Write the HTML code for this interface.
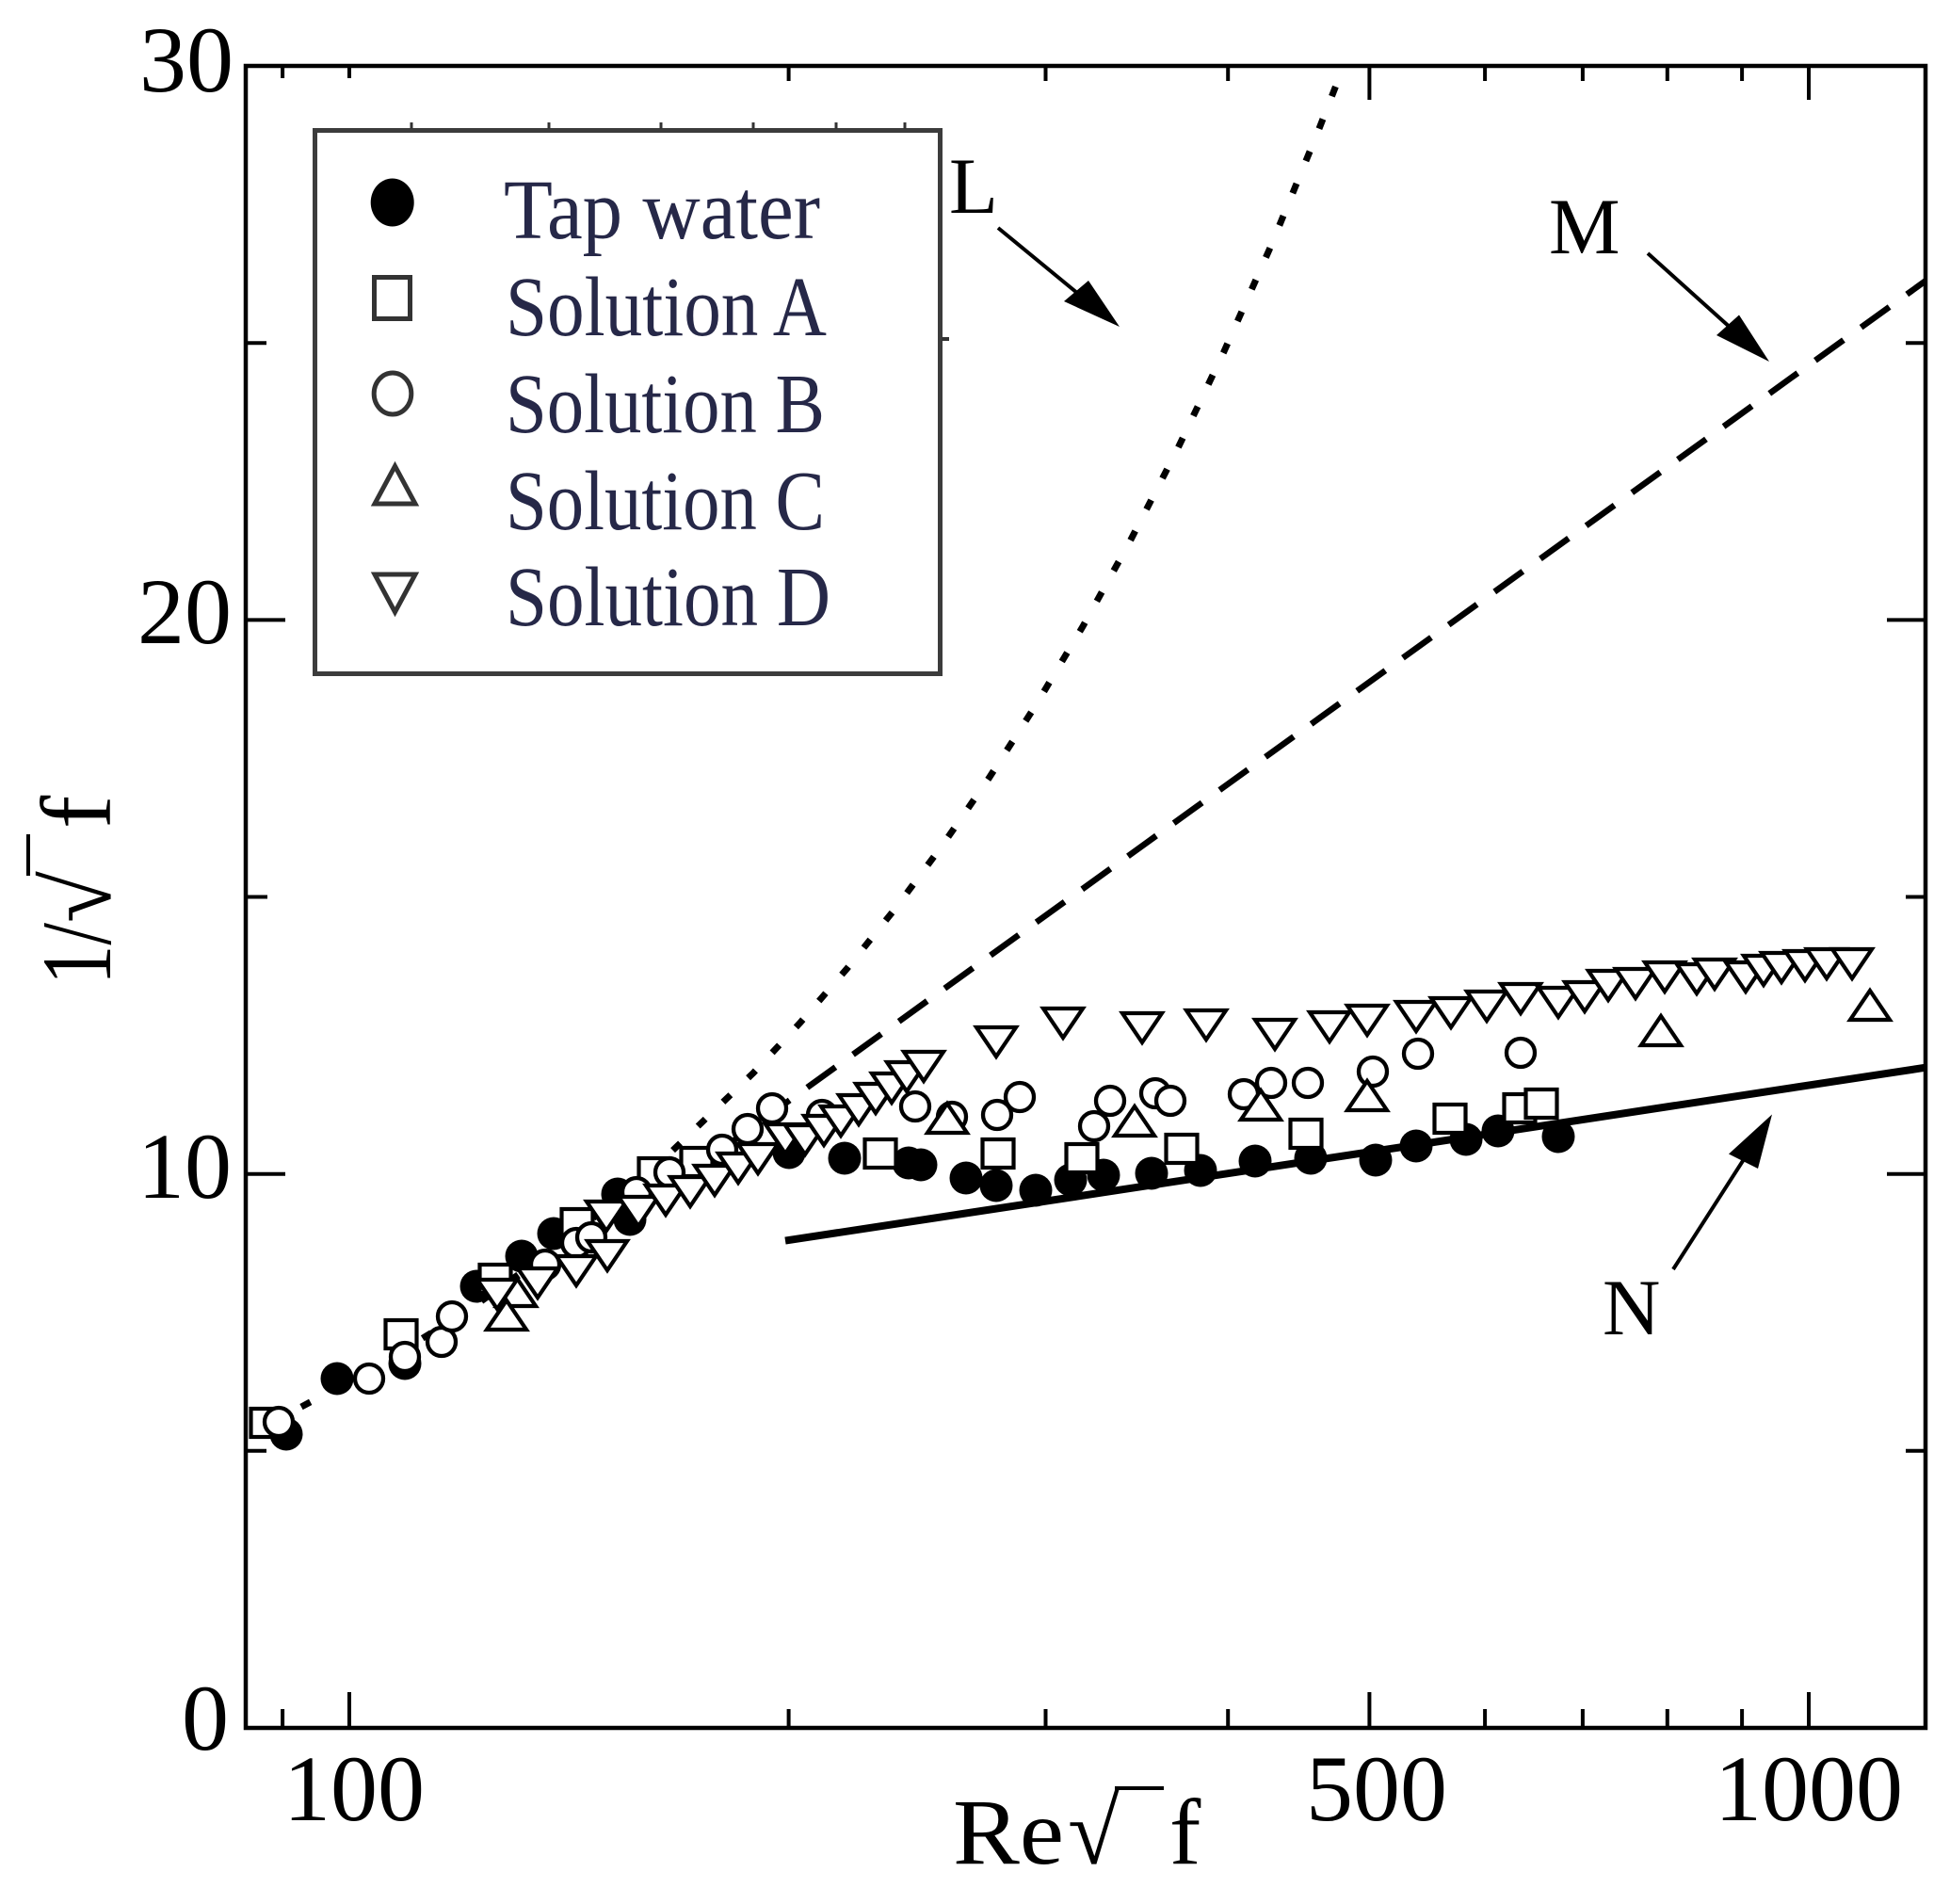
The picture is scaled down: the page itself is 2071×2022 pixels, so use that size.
<!DOCTYPE html>
<html>
<head>
<meta charset="utf-8">
<style>
  html,body{margin:0;padding:0;background:#fff;}
  svg{display:block;}
  .lbl{font-family:"Liberation Serif",serif;fill:#000;}
  .leg{font-family:"Liberation Serif",serif;fill:#262848;}
</style>
</head>
<body>
<svg width="2071" height="2022" viewBox="0 0 2071 2022" xmlns="http://www.w3.org/2000/svg">
  <defs>
    <circle id="tw" r="17.5" fill="#000"/>
    <rect id="sa" x="-16.5" y="-15" width="33" height="30" fill="#fff" stroke="#000" stroke-width="4.2"/>
    <circle id="sb" r="15" fill="#fff" stroke="#000" stroke-width="4.3"/>
    <path id="sc" d="M0,-16 L21,15 L-21,15 Z" fill="#fff" stroke="#000" stroke-width="4.2" stroke-linejoin="miter"/>
    <path id="sd" d="M-21,-15 L21,-15 L0,16 Z" fill="#fff" stroke="#000" stroke-width="4.2" stroke-linejoin="miter"/>
  </defs>

  <rect x="0" y="0" width="2071" height="2022" fill="#fff"/>

  <!-- Plot frame -->
  <rect x="261" y="70" width="1784" height="1765" fill="none" stroke="#000" stroke-width="4.5"/>

  <!-- Ticks -->
  <g stroke="#000" stroke-width="4">
    <line x1="300.1" y1="1835" x2="300.1" y2="1815"/>
    <line x1="371" y1="1835" x2="371" y2="1797"/>
    <line x1="837.6" y1="1835" x2="837.6" y2="1815"/>
    <line x1="1110.5" y1="1835" x2="1110.5" y2="1815"/>
    <line x1="1304.2" y1="1835" x2="1304.2" y2="1815"/>
    <line x1="1454.4" y1="1835" x2="1454.4" y2="1797"/>
    <line x1="1577.1" y1="1835" x2="1577.1" y2="1815"/>
    <line x1="1680.9" y1="1835" x2="1680.9" y2="1815"/>
    <line x1="1770.8" y1="1835" x2="1770.8" y2="1815"/>
    <line x1="1850.1" y1="1835" x2="1850.1" y2="1815"/>
    <line x1="1921" y1="1835" x2="1921" y2="1797"/>
    <line x1="300.1" y1="70" x2="300.1" y2="83"/>
    <line x1="371" y1="70" x2="371" y2="83"/>
    <line x1="837.6" y1="70" x2="837.6" y2="86"/>
    <line x1="1110.5" y1="70" x2="1110.5" y2="86"/>
    <line x1="1304.2" y1="70" x2="1304.2" y2="86"/>
    <line x1="1454.4" y1="70" x2="1454.4" y2="106"/>
    <line x1="1577.1" y1="70" x2="1577.1" y2="86"/>
    <line x1="1680.9" y1="70" x2="1680.9" y2="86"/>
    <line x1="1770.8" y1="70" x2="1770.8" y2="86"/>
    <line x1="1850.1" y1="70" x2="1850.1" y2="86"/>
    <line x1="1921" y1="70" x2="1921" y2="106"/>
    <line x1="261" y1="1540.8" x2="283" y2="1540.8"/>
    <line x1="261" y1="1246.7" x2="303" y2="1246.7"/>
    <line x1="261" y1="952.5" x2="284" y2="952.5"/>
    <line x1="261" y1="658.4" x2="303" y2="658.4"/>
    <line x1="261" y1="364.3" x2="283" y2="364.3"/>
    <line x1="2045" y1="1540.8" x2="2024" y2="1540.8"/>
    <line x1="2045" y1="1246.7" x2="2004" y2="1246.7"/>
    <line x1="2045" y1="952.5" x2="2024" y2="952.5"/>
    <line x1="2045" y1="658.4" x2="2004" y2="658.4"/>
    <line x1="2045" y1="364.3" x2="2024" y2="364.3"/>
  </g>

  <!-- Curves -->
  <polyline fill="none" stroke="#000" stroke-width="7" stroke-dasharray="11 26"
    points="320,1494.1 400,1451.1 500,1389.7 600,1318.3 700,1235.6 800,1139.5 850,1085.9 900,1028.1 950,965.9 1000,898.9 1050,826.8 1100,749.0 1150,665.3 1200,575.0 1250,478.0 1300,373.2 1350,260.8 1400,139.1 1427,70.1"/>
  <line x1="760" y1="1225.1" x2="2045" y2="298.3" stroke="#000" stroke-width="6.5" stroke-dasharray="37 23"/>
  <line x1="834" y1="1317.6" x2="2045" y2="1133.7" stroke="#000" stroke-width="8"/>

  <!-- Tap water -->
  <g>
    <use href="#tw" x="304" y="1523"/><use href="#tw" x="358" y="1464"/><use href="#tw" x="430" y="1448"/>
    <use href="#tw" x="506" y="1366"/><use href="#tw" x="554" y="1334"/><use href="#tw" x="588" y="1310"/>
    <use href="#tw" x="656" y="1268"/><use href="#tw" x="669" y="1295"/><use href="#tw" x="838" y="1224"/>
    <use href="#tw" x="897" y="1230"/><use href="#tw" x="965" y="1235"/><use href="#tw" x="978" y="1237"/>
    <use href="#tw" x="1026" y="1251"/><use href="#tw" x="1058" y="1259"/><use href="#tw" x="1100" y="1264"/>
    <use href="#tw" x="1137" y="1253"/><use href="#tw" x="1172" y="1248"/><use href="#tw" x="1223" y="1246"/>
    <use href="#tw" x="1275" y="1243"/><use href="#tw" x="1333" y="1233"/><use href="#tw" x="1392" y="1230"/>
    <use href="#tw" x="1461" y="1232"/><use href="#tw" x="1504" y="1217"/><use href="#tw" x="1557" y="1210"/>
    <use href="#tw" x="1591" y="1201"/><use href="#tw" x="1655" y="1207"/>
  </g>

  <!-- Solution A -->
  <g>
    <use href="#sa" x="283" y="1511"/><use href="#sa" x="426" y="1417"/><use href="#sa" x="526" y="1358"/>
    <use href="#sa" x="613" y="1299"/><use href="#sa" x="695" y="1245"/><use href="#sa" x="740" y="1234"/>
    <use href="#sa" x="935" y="1225"/><use href="#sa" x="1060" y="1225"/><use href="#sa" x="1149" y="1230"/>
    <use href="#sa" x="1255" y="1220"/><use href="#sa" x="1387" y="1204"/><use href="#sa" x="1540" y="1188"/>
    <use href="#sa" x="1614" y="1177"/><use href="#sa" x="1637" y="1172"/>
  </g>

  <!-- Solution B -->
  <g>
    <use href="#sb" x="296" y="1510"/><use href="#sb" x="392" y="1464"/><use href="#sb" x="430" y="1441"/>
    <use href="#sb" x="469" y="1425"/><use href="#sb" x="480" y="1398"/><use href="#sb" x="579" y="1343"/>
    <use href="#sb" x="612" y="1320"/><use href="#sb" x="628" y="1314"/><use href="#sb" x="676" y="1266"/>
    <use href="#sb" x="711" y="1245"/><use href="#sb" x="767" y="1221"/><use href="#sb" x="794" y="1199"/>
    <use href="#sb" x="820" y="1177"/><use href="#sb" x="873" y="1184"/><use href="#sb" x="972" y="1175"/>
    <use href="#sb" x="1011" y="1186"/><use href="#sb" x="1059" y="1184"/><use href="#sb" x="1083" y="1165"/>
    <use href="#sb" x="1162" y="1196"/><use href="#sb" x="1179" y="1169"/><use href="#sb" x="1227" y="1161"/>
    <use href="#sb" x="1243" y="1169"/><use href="#sb" x="1321" y="1162"/><use href="#sb" x="1350" y="1150"/>
    <use href="#sb" x="1389" y="1150"/><use href="#sb" x="1458" y="1138"/><use href="#sb" x="1506" y="1119"/>
    <use href="#sb" x="1615" y="1118"/>
  </g>

  <!-- Solution C -->
  <g>
    <use href="#sc" x="548" y="1372"/><use href="#sc" x="538" y="1397"/><use href="#sc" x="1006" y="1188"/>
    <use href="#sc" x="1205" y="1191"/><use href="#sc" x="1339" y="1174"/><use href="#sc" x="1452" y="1164"/>
    <use href="#sc" x="1764" y="1095"/><use href="#sc" x="1986" y="1068"/>
  </g>

  <!-- Solution D -->
  <g>
    <use href="#sd" x="528" y="1374"/><use href="#sd" x="571" y="1362"/><use href="#sd" x="612" y="1349"/>
    <use href="#sd" x="645" y="1333"/><use href="#sd" x="644" y="1291"/><use href="#sd" x="678" y="1286"/>
    <use href="#sd" x="707" y="1274"/><use href="#sd" x="733" y="1265"/><use href="#sd" x="759" y="1253"/>
    <use href="#sd" x="784" y="1240"/><use href="#sd" x="805" y="1230"/><use href="#sd" x="834" y="1209"/>
    <use href="#sd" x="855" y="1210"/><use href="#sd" x="875" y="1200"/><use href="#sd" x="893" y="1190"/>
    <use href="#sd" x="912" y="1178"/><use href="#sd" x="930" y="1166"/><use href="#sd" x="947" y="1155"/>
    <use href="#sd" x="963" y="1143"/><use href="#sd" x="981" y="1132"/><use href="#sd" x="1058" y="1106"/>
    <use href="#sd" x="1129" y="1086"/><use href="#sd" x="1213" y="1091"/><use href="#sd" x="1281" y="1088"/>
    <use href="#sd" x="1354" y="1098"/><use href="#sd" x="1412" y="1090"/><use href="#sd" x="1452" y="1083"/>
    <use href="#sd" x="1504" y="1079"/><use href="#sd" x="1541" y="1075"/><use href="#sd" x="1579" y="1068"/>
    <use href="#sd" x="1615" y="1060"/><use href="#sd" x="1655" y="1064"/><use href="#sd" x="1683" y="1058"/>
    <use href="#sd" x="1708" y="1046"/><use href="#sd" x="1737" y="1044"/><use href="#sd" x="1768" y="1037"/>
    <use href="#sd" x="1802" y="1039"/><use href="#sd" x="1821" y="1034"/><use href="#sd" x="1854" y="1037"/>
    <use href="#sd" x="1873" y="1030"/><use href="#sd" x="1892" y="1027"/><use href="#sd" x="1917" y="1025"/>
    <use href="#sd" x="1940" y="1023"/><use href="#sd" x="1967" y="1023"/>
  </g>

  <!-- Arrows -->
  <g stroke="#000" stroke-width="4" fill="#000">
    <line x1="1060" y1="242" x2="1150" y2="316"/>
    <polygon points="1189,347 1130,320 1156,298" stroke="none"/>
    <line x1="1750" y1="269" x2="1840" y2="350"/>
    <polygon points="1879,384 1823,356 1847,334.5" stroke="none"/>
    <line x1="1777" y1="1348" x2="1856" y2="1225"/>
    <polygon points="1882,1183.5 1836,1225.5 1867,1241" stroke="none"/>
  </g>

  <!-- Line labels -->
  <text class="lbl" x="1008" y="226" font-size="85">L</text>
  <text class="lbl" x="1645" y="269" font-size="85">M</text>
  <text class="lbl" x="1702" y="1417" font-size="85">N</text>

  <!-- Legend -->
  <g>
    <rect x="334.5" y="138.5" width="664" height="577" fill="#fff" stroke="#3c3c3c" stroke-width="5"/>
    <g stroke="#333" stroke-width="3">
      <line x1="437" y1="130" x2="437" y2="137"/>
      <line x1="583" y1="130" x2="583" y2="137"/>
      <line x1="702" y1="130" x2="702" y2="137"/>
      <line x1="800" y1="130" x2="800" y2="137"/>
      <line x1="888" y1="130" x2="888" y2="137"/>
      <line x1="961" y1="130" x2="961" y2="137"/>
      <line x1="1000" y1="360" x2="1008" y2="360" stroke-width="4"/>
    </g>
    <ellipse cx="416.7" cy="215" rx="23" ry="25.5" fill="#000"/>
    <rect x="397.5" y="294.5" width="38" height="44" fill="#fff" stroke="#333" stroke-width="5"/>
    <ellipse cx="417" cy="418" rx="19.8" ry="22" fill="#fff" stroke="#333" stroke-width="5"/>
    <path d="M419.5,495 L441,535 L398,535 Z" fill="#fff" stroke="#333" stroke-width="5"/>
    <path d="M398,610 L441,610 L419.5,650 Z" fill="#fff" stroke="#333" stroke-width="5"/>
    <text class="leg" x="535" y="253" font-size="90" textLength="336" lengthAdjust="spacingAndGlyphs">Tap water</text>
    <text class="leg" x="537" y="356" font-size="90" textLength="341" lengthAdjust="spacingAndGlyphs">Solution A</text>
    <text class="leg" x="537" y="459" font-size="90" textLength="339" lengthAdjust="spacingAndGlyphs">Solution B</text>
    <text class="leg" x="537" y="562" font-size="90" textLength="339" lengthAdjust="spacingAndGlyphs">Solution C</text>
    <text class="leg" x="537" y="664" font-size="90" textLength="345" lengthAdjust="spacingAndGlyphs">Solution D</text>
  </g>

  <!-- Y tick labels -->
  <g class="lbl" font-size="100" text-anchor="end">
    <text x="248" y="97">30</text>
    <text x="246" y="683">20</text>
    <text x="246" y="1272">10</text>
    <text x="243" y="1858">0</text>
  </g>

  <!-- X tick labels -->
  <g class="lbl" font-size="100" text-anchor="middle">
    <text x="376" y="1933">100</text>
    <text x="1462" y="1933">500</text>
    <text x="1921" y="1933">1000</text>
  </g>

  <!-- X title -->
  <text class="lbl" x="1012" y="1979" font-size="100" textLength="118" lengthAdjust="spacingAndGlyphs">Re</text>
  <text class="lbl" x="1134" y="1979" font-size="100">√</text>
  <line x1="1184" y1="1899" x2="1236" y2="1899" stroke="#000" stroke-width="4"/>
  <text class="lbl" x="1242" y="1979" font-size="100">f</text>

  <!-- Y title (rotated) -->
  <text class="lbl" transform="translate(117,1046) rotate(-90)" x="0" y="0" font-size="106" textLength="66" lengthAdjust="spacingAndGlyphs">1/</text>
  <text class="lbl" transform="translate(117,980) rotate(-90)" x="0" y="0" font-size="100">√</text>
  <line x1="30" y1="930" x2="30" y2="886" stroke="#000" stroke-width="4"/>
  <text class="lbl" transform="translate(117,880) rotate(-90)" x="0" y="0" font-size="106">f</text>
</svg>
</body>
</html>
